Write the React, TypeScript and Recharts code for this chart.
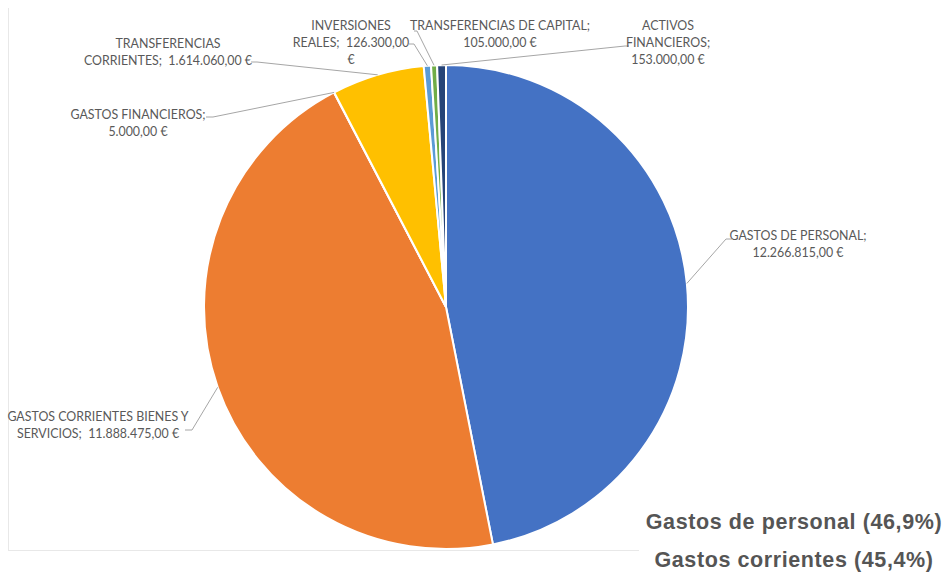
import { PieChart, Pie, Cell } from "recharts";

// partidas del presupuesto de gastos, en orden horario desde arriba
const CATEGORIES = [
  "GASTOS DE PERSONAL",
  "GASTOS CORRIENTES BIENES Y SERVICIOS",
  "GASTOS FINANCIEROS",
  "TRANSFERENCIAS CORRIENTES",
  "INVERSIONES REALES",
  "TRANSFERENCIAS DE CAPITAL",
  "ACTIVOS FINANCIEROS",
];

const VALUES = [12266815, 11888475, 5000, 1614060, 126300, 105000, 153000];

const COLORS = ["#4472C4", "#ED7D31", "#A5A5A5", "#FFC000", "#5B9BD5", "#70AD47", "#264478"];

// texto de cada etiqueta, ya partido en líneas como en el original
const LABEL_LINES = [
  ["GASTOS DE PERSONAL;", "12.266.815,00 €"],
  ["GASTOS CORRIENTES BIENES Y", "SERVICIOS;  11.888.475,00 €"],
  ["GASTOS FINANCIEROS;", "5.000,00 €"],
  ["TRANSFERENCIAS", "CORRIENTES;  1.614.060,00 €"],
  ["INVERSIONES", "REALES;  126.300,00", "€"],
  ["TRANSFERENCIAS DE CAPITAL;", "105.000,00 €"],
  ["ACTIVOS", "FINANCIEROS;", "153.000,00 €"],
];

const SUMMARY = ["Gastos de personal (46,9%)", "Gastos corrientes (45,4%)"];

// posición de cada etiqueta y codo de su línea guía
const LABEL_LAYOUT = [
  { x: 798, y: 240, line: [[726, 239], [732, 239]] },
  { x: 98, y: 421, line: [[192, 430], [185, 430]] },
  { x: 138, y: 119, line: [[213, 117], [206, 117]] },
  { x: 168, y: 48, line: [[257, 62], [251, 62]] },
  { x: 351, y: 30, line: [[414, 44], [409, 44]] },
  { x: 500, y: 30, line: [[417, 31], [414, 31]] },
  { x: 668, y: 30, line: [[625, 46], [629, 46]] },
];

const RADIAN = Math.PI / 180;
const data = CATEGORIES.map((name, i) => ({ name, value: VALUES[i] }));

function renderLabel(props: any) {
  const { cx, cy, midAngle, outerRadius, index } = props;
  const sx = cx + outerRadius * Math.cos(-midAngle * RADIAN);
  const sy = cy + outerRadius * Math.sin(-midAngle * RADIAN);
  const layout = LABEL_LAYOUT[index];
  const pts = [[sx, sy], ...layout.line].map((p) => p.join(",")).join(" ");
  return (
    <g key={`lbl-${index}`}>
      <polyline points={pts} fill="none" stroke="#a6a6a6" strokeWidth={1} />
      <text
        x={layout.x}
        y={layout.y}
        textAnchor="middle"
        fill="#595959"
        fontFamily="Lato, sans-serif"
        fontSize={12.4}
        style={{ whiteSpace: "pre" }}
      >
        {LABEL_LINES[index].map((t, i) => (
          <tspan key={i} x={layout.x} dy={i === 0 ? 0 : 17}>
            {t}
          </tspan>
        ))}
      </text>
    </g>
  );
}

export default function App() {
  return (
    <div style={{ position: "absolute", left: 0, top: 0, width: 950, height: 572, background: "#fff" }}>
      <div
        style={{
          position: "absolute",
          left: 8,
          top: 8,
          width: 630,
          height: 542,
          borderLeft: "1px solid #e8e8e8",
          borderBottom: "1px solid #e8e8e8",
        }}
      />
      <div style={{ position: "absolute", left: 0, top: 0 }}>
        <PieChart width={950} height={572} margin={{ top: 0, right: 0, bottom: 0, left: 0 }}>
          <Pie
            data={data}
            dataKey="value"
            nameKey="name"
            cx={446}
            cy={307}
            outerRadius={242}
            startAngle={90}
            endAngle={-270}
            stroke="#fff"
            strokeWidth={2}
            label={renderLabel}
            labelLine={false}
            isAnimationActive={false}
          >
            {data.map((d, i) => (
              <Cell key={d.name} fill={COLORS[i]} />
            ))}
          </Pie>
        </PieChart>
      </div>
      {SUMMARY.map((t, i) => (
        <div
          key={t}
          style={{
            position: "absolute",
            left: 594,
            top: 512 + i * 38,
            width: 400,
            textAlign: "center",
            whiteSpace: "nowrap",
            fontFamily: "'Liberation Sans', Arial, sans-serif",
            fontWeight: "bold",
            fontSize: 21.5,
            lineHeight: "21px",
            letterSpacing: 0.6,
            color: "#555555",
          }}
        >
          {t}
        </div>
      ))}
    </div>
  );
}
